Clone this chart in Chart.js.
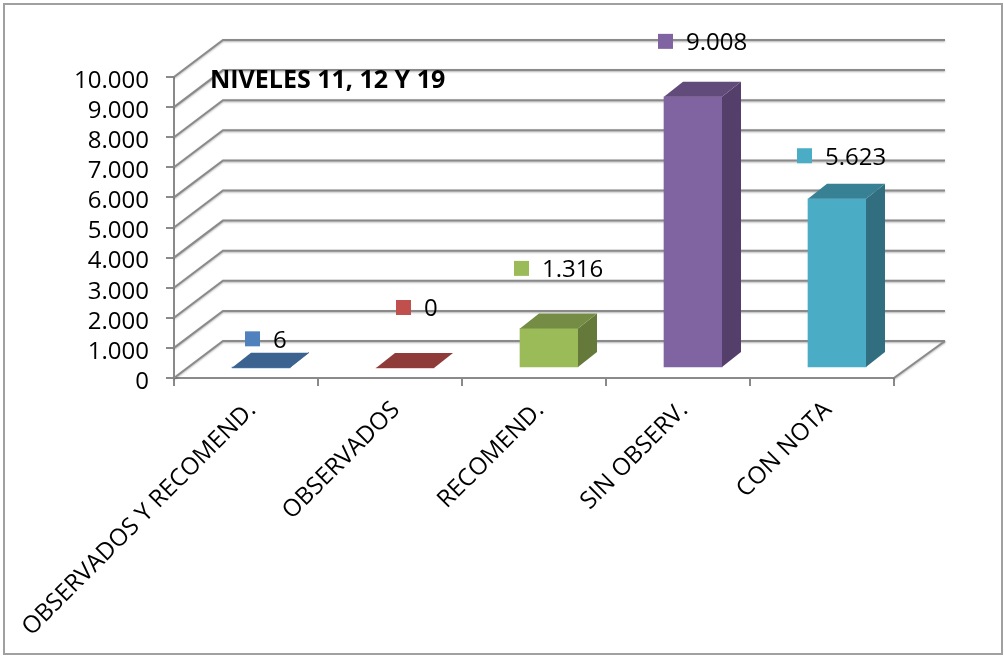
<!DOCTYPE html>
<html>
<head>
<meta charset="utf-8">
<style>
  body { margin: 0; background: #fff; }
  #wrap { position: relative; width: 1004px; height: 656px; overflow: hidden; }
  #frame { position: absolute; left: 3px; top: 3px; width: 996px; height: 648px; border: 2px solid #a0a0a0; }
  canvas { position: absolute; left: 0; top: 0; }
</style>
</head>
<body>
<div id="wrap">
  <div id="frame"></div>
  <canvas id="grafico" width="1004" height="656"></canvas>
</div>
<script src="https://cdn.jsdelivr.net/npm/chart.js@4/dist/chart.umd.min.js"></script>
<script>
const categories = ['OBSERVADOS Y RECOMEND.', 'OBSERVADOS', 'RECOMEND.', 'SIN OBSERV.', 'CON NOTA'];
const values = [6, 0, 1316, 9008, 5623];
const valueLabels = ['6', '0', '1.316', '9.008', '5.623'];
const tickLabels = ['0', '1.000', '2.000', '3.000', '4.000', '5.000', '6.000', '7.000', '8.000', '9.000', '10.000'];
const chartTitle = 'NIVELES 11, 12 Y 19';

const frontColors = ['#4f81bd', '#c0504d', '#9bbb59', '#8064a2', '#4bacc6'];
const topColors = ['#3c6390', '#8f3b39', '#748c43', '#604b7a', '#388194'];
const sideColors = ['#335479', '#7a3230', '#64793a', '#543f6a', '#316f80'];
const markerColors = ['#4f81bd', '#c0504d', '#9bbb59', '#8064a2', '#4bacc6'];

// donde cae cada etiqueta respecto a la parte de arriba de la barra
const labelDx = [-8.5, -1.5, -27.5, -27.5, -32.5];
const labelDy = [-29, -60.5, -60, -55.5, -43];

const FONT = '"Open Sans", "Noto Sans", sans-serif';
const GRID = '#8a8a8a';
const WALL = { x: 49, y: -37 };   // fondo de la caja 3D
const SHIFT = { x: 15, y: -10 };  // las barras van a media profundidad
const DEPTH = { x: 19, y: -15 };  // profundidad de cada barra

function poly(ctx, color, pts) {
  ctx.fillStyle = color;
  ctx.beginPath();
  pts.forEach((p, i) => i ? ctx.lineTo(p[0], p[1]) : ctx.moveTo(p[0], p[1]));
  ctx.closePath();
  ctx.fill();
}

const caja3d = {
  id: 'caja3d',
  beforeDatasetsDraw(chart) {
    const ctx = chart.ctx;
    const { left, right, bottom } = chart.chartArea;
    const y = chart.scales.y;

    ctx.save();
    ctx.strokeStyle = GRID;
    ctx.lineWidth = 2;
    ctx.shadowColor = 'rgba(0,0,0,0.3)';
    ctx.shadowBlur = 2;
    ctx.shadowOffsetY = 1;
    // lineas de la pared y del lateral
    y.ticks.forEach(t => {
      const py = y.getPixelForValue(t.value);
      ctx.beginPath();
      ctx.moveTo(left, py);
      ctx.lineTo(left + WALL.x, py + WALL.y);
      ctx.lineTo(right + WALL.x + 2, py + WALL.y);
      ctx.stroke();
    });
    // cierre del suelo
    ctx.beginPath();
    ctx.moveTo(right, bottom);
    ctx.lineTo(right + WALL.x + 2, bottom + WALL.y);
    ctx.stroke();
    ctx.restore();

    // las barras se dibujan desplazadas, se restaura en afterDatasetsDraw
    ctx.save();
    ctx.translate(SHIFT.x, SHIFT.y);
  },
  afterDatasetsDraw(chart) {
    const ctx = chart.ctx;
    const bars = chart.getDatasetMeta(0).data;
    bars.forEach((bar, i) => {
      const x0 = bar.x - bar.width / 2;
      const x1 = bar.x + bar.width / 2;
      const top = bar.y;
      const base = bar.base;
      poly(ctx, sideColors[i], [[x1, top], [x1 + DEPTH.x, top + DEPTH.y], [x1 + DEPTH.x, base + DEPTH.y], [x1, base]]);
      poly(ctx, topColors[i], [[x0, top], [x0 + DEPTH.x, top + DEPTH.y], [x1 + DEPTH.x, top + DEPTH.y], [x1, top]]);
    });
    ctx.restore();

    // etiquetas con su cuadrito
    ctx.save();
    ctx.textBaseline = 'middle';
    ctx.textAlign = 'left';
    ctx.font = '24px ' + FONT;
    bars.forEach((bar, i) => {
      const cx = bar.x + SHIFT.x + labelDx[i];
      const cy = bar.y + SHIFT.y + labelDy[i];
      ctx.fillStyle = markerColors[i];
      ctx.fillRect(cx - 7.5, cy - 7.5, 15, 15);
      ctx.fillStyle = '#000';
      ctx.fillText(valueLabels[i], cx + 20.5, cy + 2);
    });
    // titulo
    ctx.font = 'bold 25px ' + FONT;
    ctx.textBaseline = 'alphabetic';
    ctx.fillText(chartTitle, 210, 88);
    ctx.restore();
  }
};

new Chart(document.getElementById('grafico'), {
  type: 'bar',
  data: {
    labels: categories,
    datasets: [{
      data: values,
      backgroundColor: frontColors,
      borderWidth: 0,
      barThickness: 58,
      clip: false
    }]
  },
  options: {
    responsive: false,
    animation: false,
    layout: { padding: { left: 0, top: 77, right: 110, bottom: 0 } },
    plugins: { legend: { display: false }, title: { display: false }, tooltip: { enabled: false } },
    scales: {
      x: {
        // sin esto las etiquetas giradas empujan el area del grafico
        afterFit: s => { s.height = 278; s.paddingLeft = 0; s.paddingRight = 0; },
        grid: { drawOnChartArea: false, color: GRID, lineWidth: 2, tickLength: 8 },
        border: { color: GRID, width: 2 },
        ticks: { color: '#000', font: { family: FONT, size: 24 }, minRotation: 45, maxRotation: 45, autoSkip: false, padding: 10, labelOffset: 6 }
      },
      y: {
        min: 0,
        max: 10000,
        afterFit: s => { s.width = 174; s.paddingTop = 0; s.paddingBottom = 0; },
        grid: { drawOnChartArea: false, color: GRID, lineWidth: 2, tickLength: 8 },
        border: { color: GRID, width: 2 },
        ticks: {
          stepSize: 1000,
          autoSkip: false,
          color: '#000',
          font: { family: FONT, size: 24 },
          padding: 17,
          labelOffset: 4,
          callback: (v, i) => tickLabels[i]
        }
      }
    }
  },
  plugins: [caja3d]
});
</script>
</body>
</html>
